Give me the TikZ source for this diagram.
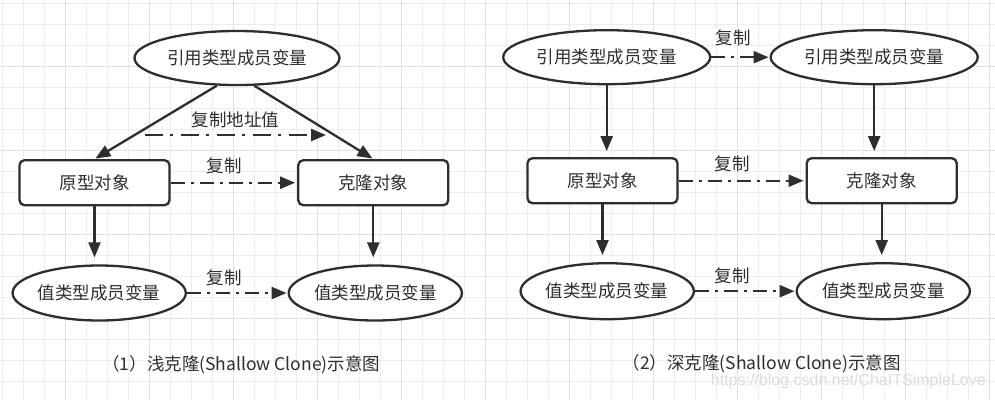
\documentclass[tikz,border=0pt]{standalone}
\usepackage{fontspec}
\setmainfont{Noto Sans CJK SC}
\newfontfamily\wmfont{Liberation Sans}
\usetikzlibrary{shapes.geometric,arrows.meta}
\definecolor{ink}{HTML}{2E2E2E}
\definecolor{gridminor}{HTML}{EDEDED}
\definecolor{gridmajor}{HTML}{E0E0E0}
\definecolor{wmark}{HTML}{DCDCDC}
\newcommand{\fsz}{\fontsize{17.5}{20}\selectfont}
\tikzset{
  ell/.style={ellipse, draw=ink, line width=2.3pt, fill=white, inner sep=0pt, text=ink, font=\fsz},
  objbox/.style={rectangle, rounded corners=5pt, draw=ink, line width=2.3pt, fill=white, inner sep=0pt, minimum width=150pt, minimum height=45pt, text=ink, font=\fsz},
  solidarr/.style={draw=ink, line width=2.3pt, -{Triangle[length=15pt,width=12pt]}},
  dasharr/.style={solidarr, dash pattern=on 14pt off 6pt on 3pt off 6pt},
  dasharrlong/.style={solidarr, dash pattern=on 18pt off 7pt on 3pt off 8pt},
  lbl/.style={text=ink, font=\fsz, inner sep=0pt},
}
\begin{document}
\begin{tikzpicture}[x=1pt,y=-1pt]
\useasboundingbox (0,0) rectangle (995,400);
\fill[white] (0,0) rectangle (995,400);
% grid
\foreach \i in {0,...,47} {\draw[gridminor, line width=1pt] ({2.3+21*\i},0) -- ({2.3+21*\i},400);}
\foreach \i in {0,...,19} {\draw[gridminor, line width=1pt] (0,{3.3+21*\i}) -- (995,{3.3+21*\i});}
\foreach \i in {0,...,11} {\draw[gridmajor, line width=1pt] ({65.3+84*\i},0) -- ({65.3+84*\i},400);}
\foreach \i in {0,...,4} {\draw[gridmajor, line width=1pt] (0,{66.3+84*\i}) -- (995,{66.3+84*\i});}

% ---------- left: shallow clone ----------
\node[ell, minimum width=205pt, minimum height=54pt] (LtopE) at (237,58) {引用类型成员变量};
\node[objbox] (LboxA) at (94.5,182.7) {原型对象};
\node[objbox] (LboxB) at (373.3,182.7) {克隆对象};
\node[ell, minimum width=170pt, minimum height=55pt] (LbotA) at (99.2,293) {值类型成员变量};
\node[ell, minimum width=170pt, minimum height=55pt] (LbotB) at (375.3,293) {值类型成员变量};

\draw[solidarr, shorten >=1pt] (LtopE.234) -- (LboxA.north);
\draw[solidarr, shorten >=1pt] (LtopE.-58) -- (LboxB.north);
\coordinate (La1) at (145,135);
\coordinate (La2) at (326,135);
\draw[dasharrlong] (La1) -- (La2);
\node[lbl] (Llab1) at (235.7,120) {复制地址值};
\draw[dasharr, shorten >=2pt] (LboxA.east) -- (LboxB.west);
\node[lbl] (Llab2) at (224,165.7) {复制};
\draw[solidarr, shorten >=7pt] (LboxA.south) -- (LboxA.south |- LbotA.north);
\draw[solidarr, shorten >=7pt] (LboxB.south) -- (LboxB.south |- LbotB.north);
\draw[dasharr, shorten >=1pt] (LbotA.east) -- (LbotB.west);
\node[lbl] (Llab3) at (224,277.7) {复制};
\node[lbl] (Lcap) at (241.3,364.3) {（1）浅克隆(Shallow Clone)示意图};

% ---------- right: deep clone ----------
\node[ell, minimum width=207pt, minimum height=54pt] (RtopA) at (606.7,57.2) {引用类型成员变量};
\node[ell, minimum width=207pt, minimum height=54pt] (RtopB) at (874.2,57.2) {引用类型成员变量};
\node[objbox] (RboxA) at (602.5,180.7) {原型对象};
\node[objbox] (RboxB) at (881.7,180.7) {克隆对象};
\node[ell, minimum width=170pt, minimum height=56pt] (RbotA) at (607.2,291.2) {值类型成员变量};
\node[ell, minimum width=170pt, minimum height=56pt] (RbotB) at (883.3,291.2) {值类型成员变量};

\draw[dasharr, shorten >=1pt] (RtopA.east) -- (RtopB.west);
\node[lbl] (Rlab1) at (733.3,38.3) {复制};
\draw[solidarr, shorten >=6pt] (RtopA.south) -- (RtopA.south |- RboxA.north);
\draw[solidarr, shorten >=6pt] (RtopB.south) -- (RtopB.south |- RboxB.north);
\draw[dasharr, shorten >=2pt] (RboxA.east) -- (RboxB.west);
\node[lbl] (Rlab2) at (732.3,164) {复制};
\draw[solidarr, shorten >=7pt] (RboxA.south) -- (RboxA.south |- RbotA.north);
\draw[solidarr, shorten >=7pt] (RboxB.south) -- (RboxB.south |- RbotB.north);
\draw[dasharr, shorten >=1pt] (RbotA.east) -- (RbotB.west);
\node[lbl] (Rlab3) at (732.3,276) {复制};
\node[lbl] (Rcap) at (761.7,363.3) {（2）深克隆(Shallow Clone)示意图};

\node[text=wmark, font=\wmfont\fontsize{16}{18}\selectfont, inner sep=0pt] (wm) at (848.3,381.7) {https://blog.csdn.net/ChaITSimpleLove};
\end{tikzpicture}
\end{document}
